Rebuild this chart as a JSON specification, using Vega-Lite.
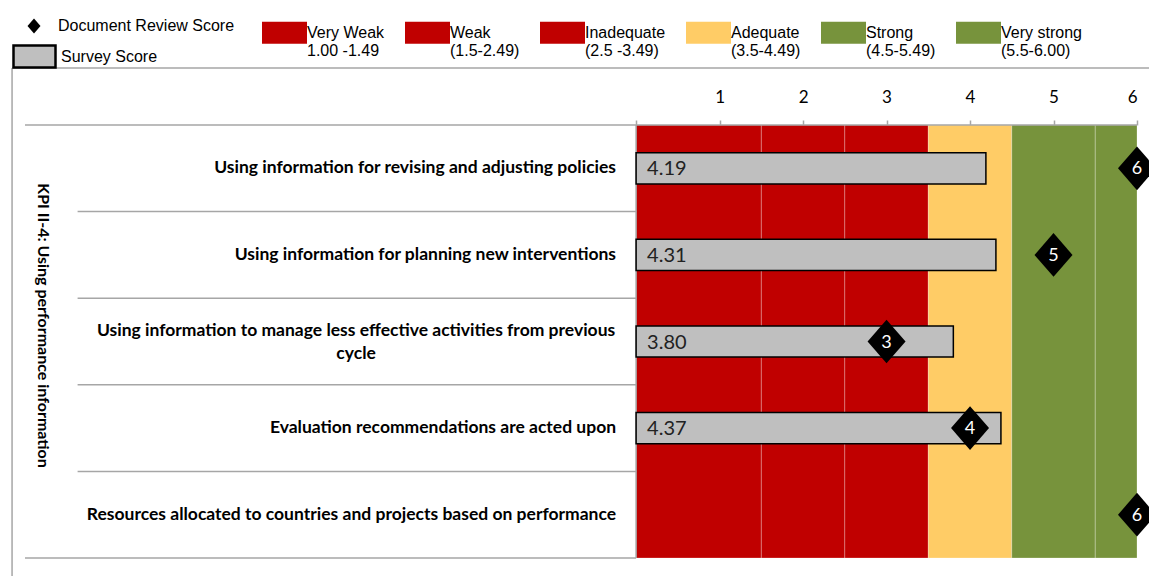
{
  "$schema": "https://vega.github.io/schema/vega-lite/v6.json",
  "width": 1112,
  "height": 433,
  "autosize": "none",
  "padding": {"left": 25, "top": 125, "right": 12, "bottom": 18},
  "background": "white",
  "config": {"view": {"stroke": null}, "font": "Lato", "legend": {"labelLimit": 400, "padding": 0}},
  "datasets": {
    "rows": [
      {"item": "Using information for revising and adjusting policies", "survey": 4.19, "doc": 6},
      {"item": "Using information for planning new interventions", "survey": 4.31, "doc": 5},
      {"item": "Using information to manage less effective activities from previous\ncycle", "survey": 3.80, "doc": 3},
      {"item": "Evaluation recommendations are acted upon", "survey": 4.37, "doc": 4},
      {"item": "Resources allocated to countries and projects based on performance", "survey": null, "doc": 6}
    ],
    "bands": [
      {"band": "Very Weak", "lo": 0, "hi": 1.5},
      {"band": "Weak", "lo": 1.5, "hi": 2.5},
      {"band": "Inadequate", "lo": 2.5, "hi": 3.5},
      {"band": "Adequate", "lo": 3.5, "hi": 4.5},
      {"band": "Strong", "lo": 4.5, "hi": 5.5},
      {"band": "Very strong", "lo": 5.5, "hi": 6}
    ],
    "title": [{"t": "KPI II-4: Using performance information"}],
    "frame": [{}]
  },
  "layer": [
    {
      "layer": [
        {
          "data": {"name": "bands"},
          "mark": {"type": "rect", "stroke": "white", "strokeOpacity": 0.25, "strokeWidth": 1},
          "encoding": {
            "x": {"field": "lo", "type": "quantitative", "scale": {"domain": [-7.32, 6], "nice": false, "zero": false},
              "axis": {"orient": "top", "values": [0, 1, 2, 3, 4, 5, 6], "format": "d", "labelExpr": "datum.value == 0 ? '' : datum.label", "domain": false, "grid": false, "tickColor": "#A6A6A6", "tickWidth": 1.5, "tickSize": 5, "labelFont": "Lato", "labelFontSize": 17, "labelColor": "black", "labelPadding": 14, "title": null}},
            "x2": {"field": "hi"},
            "color": {"field": "band", "type": "nominal",
              "scale": {"domain": ["Very Weak", "Weak", "Inadequate", "Adequate", "Strong", "Very strong"], "range": ["#C00000", "#C00000", "#C00000", "#FFCC66", "#77933C", "#77933C"]},
              "legend": {"title": null, "orient": "none", "legendX": 237, "legendY": -115, "direction": "horizontal",
                "symbolType": "M-1,-0.49H1V0.49H-1Z", "symbolSize": 2025, "symbolStrokeWidth": 0, "symbolOpacity": 1,
                "labelFont": "Liberation Sans", "labelFontSize": 16, "labelColor": "black", "labelBaseline": "middle", "labelOffset": 0, "columnPadding": 20,
                "labelExpr": "datum.label == 'Very Weak' ? ['Very Weak', '1.00 -1.49'] : datum.label == 'Weak' ? ['Weak', '(1.5-2.49)'] : datum.label == 'Inadequate' ? ['Inadequate', '(2.5 -3.49)'] : datum.label == 'Adequate' ? ['Adequate', '(3.5-4.49)'] : datum.label == 'Strong' ? ['Strong', '(4.5-5.49)'] : ['Very strong', '(5.5-6.00)']",
                "encode": {"labels": {"update": {"dy": {"value": 2}, "lineHeight": {"value": 22}}}}}}
          }
        },
        {
          "data": {"name": "rows"},
          "transform": [{"filter": "datum.item === 'Using information for revising and adjusting policies'"}],
          "mark": {"type": "rule", "color": "#A6A6A6", "strokeWidth": 1.5},
          "encoding": {
            "y": {"field": "item", "type": "nominal", "bandPosition": 0, "axis": null},
            "x": {"datum": -7.32, "type": "quantitative"},
            "x2": {"datum": 6}
          }
        },
        {
          "data": {"name": "rows"},
          "transform": [{"filter": "datum.item !== 'Using information for revising and adjusting policies'"}],
          "mark": {"type": "rule", "color": "#A6A6A6", "strokeWidth": 1.5},
          "encoding": {
            "y": {"field": "item", "type": "nominal", "bandPosition": 0, "axis": null},
            "x": {"datum": -6.69, "type": "quantitative"},
            "x2": {"datum": 0}
          }
        },
        {
          "data": {"name": "rows"},
          "transform": [{"filter": "datum.item === 'Resources allocated to countries and projects based on performance'"}],
          "mark": {"type": "rule", "color": "#A6A6A6", "strokeWidth": 1.5},
          "encoding": {
            "y": {"field": "item", "type": "nominal", "bandPosition": 1, "axis": null},
            "x": {"datum": -7.32, "type": "quantitative"},
            "x2": {"datum": 0}
          }
        },
        {
          "data": {"name": "frame"},
          "mark": {"type": "rule", "color": "#A6A6A6", "strokeWidth": 1.5},
          "encoding": {"x": {"datum": 0, "type": "quantitative"}}
        },
        {
          "data": {"name": "rows"},
          "transform": [{"filter": "isValid(datum.survey)"}],
          "mark": {"type": "bar", "stroke": "black", "strokeWidth": 1.5, "height": {"band": 0.36}},
          "encoding": {
            "y": {"field": "item", "type": "nominal", "sort": null, "axis": null,
              "scale": {"domain": ["Using information for revising and adjusting policies", "Using information for planning new interventions", "Using information to manage less effective activities from previous\ncycle", "Evaluation recommendations are acted upon", "Resources allocated to countries and projects based on performance"], "paddingInner": 0, "paddingOuter": 0}},
            "x": {"field": "survey", "type": "quantitative"},
            "x2": {"datum": 0},
            "fill": {"datum": "Survey Score", "type": "nominal", "scale": {"range": ["#BFBFBF"]},
              "legend": {"title": null, "orient": "none", "legendX": -13, "legendY": -91,
                "symbolType": "M-1,-0.52H1V0.52H-1Z", "symbolSize": 1764, "symbolStrokeColor": "black", "symbolStrokeWidth": 2.5, "symbolFillColor": "#BFBFBF",
                "labelFont": "Liberation Sans", "labelFontSize": 16, "labelColor": "black", "labelOffset": 4}}
          }
        },
        {
          "data": {"name": "rows"},
          "transform": [{"filter": "isValid(datum.survey)"}],
          "mark": {"type": "text", "align": "left", "baseline": "middle", "dx": 11, "dy": 1, "font": "Lato", "fontSize": 20, "color": "#222222"},
          "encoding": {
            "y": {"field": "item", "type": "nominal", "axis": null},
            "x": {"datum": 0, "type": "quantitative"},
            "text": {"field": "survey", "type": "quantitative", "format": ".2f"}
          }
        },
        {
          "data": {"name": "rows"},
          "mark": {"type": "point", "filled": true, "opacity": 1, "color": "black", "size": 1444},
          "encoding": {
            "y": {"field": "item", "type": "nominal", "axis": null},
            "x": {"field": "doc", "type": "quantitative"},
            "shape": {"datum": "Document Review Score", "type": "nominal", "scale": {"range": ["M0,-1.15L1,0L0,1.15L-1,0Z"]},
              "legend": {"title": null, "orient": "none", "legendX": 1, "legendY": -107,
                "symbolSize": 169, "symbolFillColor": "black", "symbolStrokeColor": "black", "symbolStrokeWidth": 0,
                "labelFont": "Liberation Sans", "labelFontSize": 16, "labelColor": "black", "labelOffset": 16}}
          }
        },
        {
          "data": {"name": "rows"},
          "mark": {"type": "text", "align": "center", "baseline": "middle", "font": "Lato", "fontSize": 18, "color": "white", "dy": 1},
          "encoding": {
            "y": {"field": "item", "type": "nominal", "axis": null},
            "x": {"field": "doc", "type": "quantitative"},
            "text": {"field": "doc", "type": "quantitative"}
          }
        },
        {
          "data": {"name": "rows"},
          "transform": [{"filter": "indexof(datum.item, '\\n') < 0"}],
          "mark": {"type": "text", "align": "right", "baseline": "middle", "font": "Lato", "fontWeight": "bold", "fontSize": 17.5, "color": "black"},
          "encoding": {
            "y": {"field": "item", "type": "nominal", "axis": null},
            "x": {"datum": -0.24, "type": "quantitative"},
            "text": {"field": "item", "type": "nominal"}
          }
        },
        {
          "data": {"name": "rows"},
          "transform": [{"filter": "indexof(datum.item, '\\n') >= 0"}],
          "mark": {"type": "text", "align": "center", "baseline": "middle", "lineBreak": "\n", "lineHeight": 23, "dy": -11, "font": "Lato", "fontWeight": "bold", "fontSize": 17.5, "color": "black"},
          "encoding": {
            "y": {"field": "item", "type": "nominal", "axis": null},
            "x": {"datum": -3.354, "type": "quantitative"},
            "text": {"field": "item", "type": "nominal"}
          }
        },
        {
          "data": {"name": "title"},
          "mark": {"type": "text", "align": "center", "baseline": "middle", "angle": 90, "dx": -16, "font": "Lato", "fontWeight": "bold", "fontSize": 16, "color": "black"},
          "encoding": {
            "x": {"datum": -7.1, "type": "quantitative"},
            "text": {"field": "t", "type": "nominal"}
          }
        }
      ]
    },
    {
      "data": {"name": "frame"},
      "layer": [
        {
          "mark": {"type": "rule", "color": "#A6A6A6", "strokeWidth": 1.5},
          "encoding": {
            "x": {"datum": -7.475, "type": "quantitative", "scale": {"domain": [-7.32, 6], "nice": false, "zero": false}},
            "y": {"datum": 1.1316, "type": "quantitative", "scale": {"domain": [0, 1], "nice": false, "zero": false}, "axis": null},
            "y2": {"datum": -0.2}
          }
        },
        {
          "mark": {"type": "rule", "color": "#A6A6A6", "strokeWidth": 1.5},
          "encoding": {
            "x": {"datum": -7.475, "type": "quantitative"},
            "x2": {"datum": 6.5},
            "y": {"datum": 1.1316, "type": "quantitative", "axis": null}
          }
        }
      ]
    }
  ],
  "resolve": {"scale": {"y": "independent"}, "axis": {"y": "independent"}}
}
